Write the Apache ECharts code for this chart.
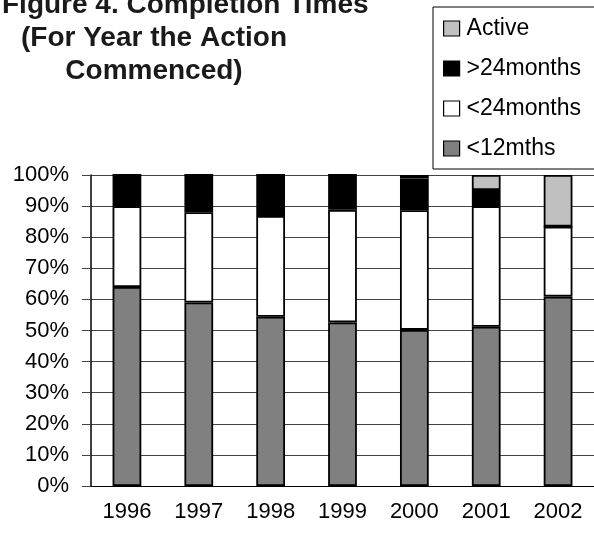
<!DOCTYPE html>
<html>
<head>
<meta charset="utf-8">
<script src="https://cdn.jsdelivr.net/npm/echarts@6/dist/echarts.min.js"></script>
<style>
html,body{margin:0;padding:0;background:#fff;}
#chart{width:594px;height:534px;}
</style>
</head>
<body>
<div id="chart"></div>
<script>
// 数据
var years = ['1996', '1997', '1998', '1999', '2000', '2001', '2002'];
var lt12 = [64, 59, 54.4, 52.6, 50.2, 51.2, 60.9];
var lt24 = [26, 29, 32.4, 36.2, 38.5, 38.8, 22.5];
var gt24 = [10, 12, 13.2, 11.2, 10.2, 5.2, 0];
var active = [0, 0, 0, 0, 1.1, 4.8, 16.6];
var yTicks = [0, 10, 20, 30, 40, 50, 60, 70, 80, 90, 100];

var font = 'Liberation Sans, Arial, sans-serif';
var titleStyle = {fontFamily: font, fontSize: 28, fontWeight: 'bold', color: '#1a1a1a', lineHeight: 33, align: 'center'};

function barSeries(name, data, color){
	return {
		name: name,
		type: 'bar',
		stack: 'all',
		barWidth: '40%',
		itemStyle: {color: color, borderColor: '#000', borderWidth: 1.8},
		data: data
	};
}

var option = {
	animation: false,
	backgroundColor: '#fff',
	title: [
		{text: 'Figure 4. Completion Times', left: 2, top: -11, padding: 0, textStyle: titleStyle},
		{text: '(For Year the Action\nCommenced)', left: 154, top: 22, padding: 0, textAlign: 'center', textStyle: titleStyle}
	],
	legend: {
		orient: 'vertical',
		left: 433, top: 7,
		padding: [10, 60, 9, 10],
		itemGap: 17,
		itemWidth: 16, itemHeight: 15,
		icon: 'rect',
		borderColor: '#000', borderWidth: 1,
		data: ['Active', '>24months', '<24months', '<12mths'],
		textStyle: {fontFamily: font, fontSize: 23, color: '#000', lineHeight: 22, padding: [0, 0, 0, 2]},
		itemStyle: {borderColor: '#000', borderWidth: 1.2}
	},
	grid: {left: 91, right: -1, top: 175, bottom: 48, containLabel: false},
	xAxis: {
		type: 'category',
		data: years,
		axisLine: {lineStyle: {color: '#000', width: 1}},
		axisTick: {length: 8, lineStyle: {color: '#000'}},
		axisLabel: {fontFamily: font, fontSize: 22, color: '#000', margin: 15}
	},
	yAxis: {
		type: 'value',
		min: yTicks[0], max: yTicks[yTicks.length - 1], interval: 10,
		axisLine: {show: true, lineStyle: {color: '#000', width: 1.5}},
		axisTick: {show: true, inside: false, length: 9, lineStyle: {color: '#444'}},
		splitLine: {lineStyle: {color: '#444', width: 1}},
		axisLabel: {fontFamily: font, fontSize: 22, color: '#000', margin: 22, formatter: '{value}%'}
	},
	series: [
		barSeries('<12mths', lt12, '#808080'),
		barSeries('<24months', lt24, '#ffffff'),
		barSeries('>24months', gt24, '#000000'),
		barSeries('Active', active, '#c0c0c0')
	]
};

var myChart = echarts.init(document.getElementById('chart'));
myChart.setOption(option);//加载图表
</script>
</body>
</html>
